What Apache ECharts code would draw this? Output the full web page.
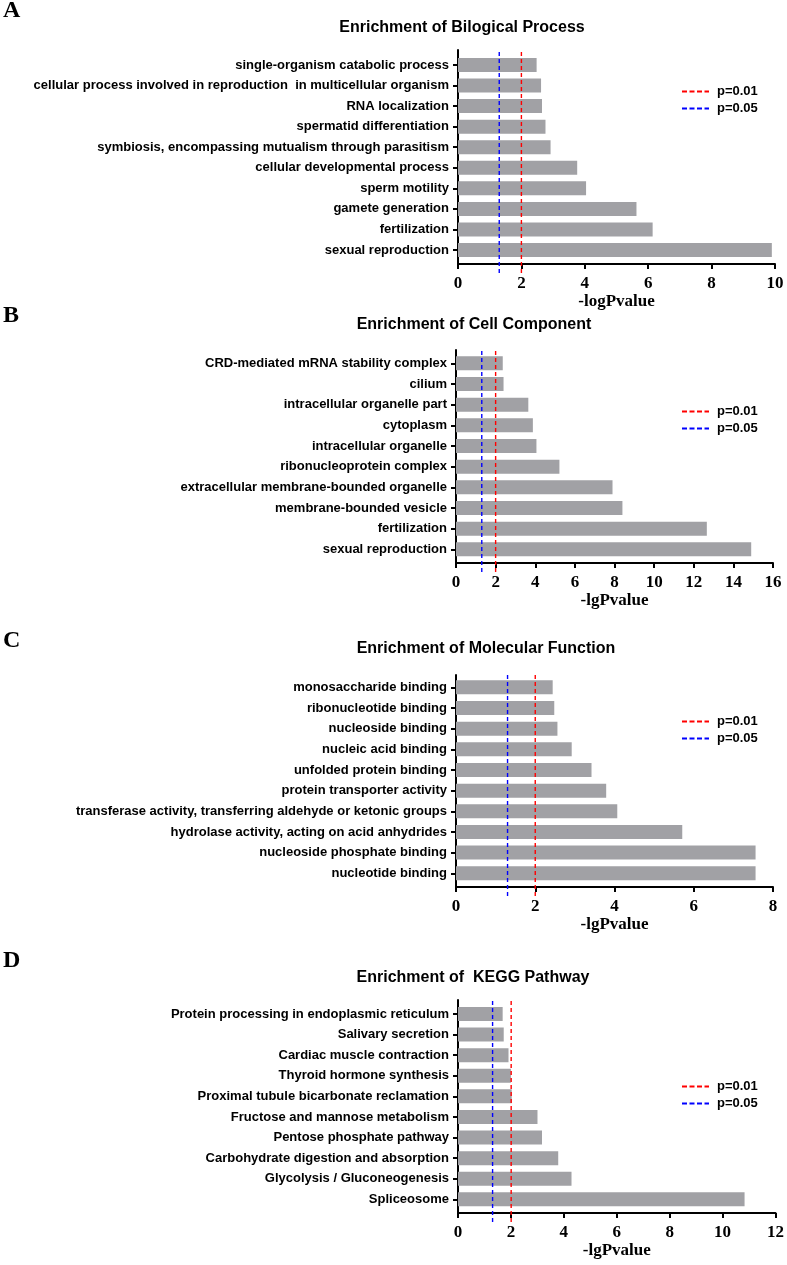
<!DOCTYPE html>
<html>
<head>
<meta charset="utf-8">
<script src="https://cdn.jsdelivr.net/npm/echarts@6/dist/echarts.min.js"></script>
<style>
html,body{margin:0;padding:0;background:#fff;}
#chart{width:787px;height:1265px;}
</style>
</head>
<body>
<div id="chart"></div>
<script>
// ---- data ----
const catsA = ['single-organism catabolic process','cellular process involved in reproduction  in multicellular organism','RNA localization','spermatid differentiation','symbiosis, encompassing mutualism through parasitism','cellular developmental process','sperm motility','gamete generation','fertilization','sexual reproduction'];
const valsA = [2.48, 2.62, 2.65, 2.76, 2.92, 3.76, 4.04, 5.63, 6.14, 9.9];

const catsB = ['CRD-mediated mRNA stability complex','cilium','intracellular organelle part','cytoplasm','intracellular organelle','ribonucleoprotein complex','extracellular membrane-bounded organelle','membrane-bounded vesicle','fertilization','sexual reproduction'];
const valsB = [2.36, 2.4, 3.65, 3.88, 4.06, 5.22, 7.9, 8.4, 12.66, 14.9];

const catsC = ['monosaccharide binding','ribonucleotide binding','nucleoside binding','nucleic acid binding','unfolded protein binding','protein transporter activity','transferase activity, transferring aldehyde or ketonic groups','hydrolase activity, acting on acid anhydrides','nucleoside phosphate binding','nucleotide binding'];
const valsC = [2.44, 2.48, 2.56, 2.92, 3.42, 3.79, 4.07, 5.71, 7.56, 7.56];

const catsD = ['Protein processing in endoplasmic reticulum','Salivary secretion','Cardiac muscle contraction','Thyroid hormone synthesis','Proximal tubule bicarbonate reclamation','Fructose and mannose metabolism','Pentose phosphate pathway','Carbohydrate digestion and absorption','Glycolysis / Gluconeogenesis','Spliceosome'];
const valsD = [1.68, 1.72, 1.9, 1.99, 2.02, 2.99, 3.16, 3.77, 4.27, 10.78];

const titles = ['Enrichment of Bilogical Process','Enrichment of Cell Component','Enrichment of Molecular Function','Enrichment of  KEGG Pathway'];
const letters = ['A','B','C','D'];
const axisNames = ['-logPvalue','-lgPvalue','-lgPvalue','-lgPvalue'];
const axisMax = [10, 16, 8, 12];
const axisStep = [2, 2, 2, 2];
const thresholdNames = ['p=0.01','p=0.05'];
const thresholdVals = [2, 1.301];   // -log10(0.01), -log10(0.05)
const thresholdColors = ['#ff0000','#0000ff'];

// ---- layout (pixels) ----
const layout = [
  {left:458, right:12, axTop:50,   axBot:264,  barTop:54.7,   barBot:260.3,  titleX:462, titleY:28,  letterY:12,  legTop:80},
  {left:456, right:14, axTop:350,  axBot:563,  barTop:353,    barBot:559.7,  titleX:474, titleY:325, letterY:317, legTop:400},
  {left:456, right:14, axTop:675,  axBot:887,  barTop:677,    barBot:883.6,  titleX:486, titleY:649, letterY:642, legTop:710},
  {left:458, right:10, axTop:1000, axBot:1213, barTop:1003.7, barBot:1209.6, titleX:473, titleY:978, letterY:962, legTop:1075}
];
const H = 1265;
const cats = [catsA, catsB, catsC, catsD];
const vals = [valsA, valsB, valsC, valsD];

const SANS = '"Liberation Sans", Arial, sans-serif';
const SERIF = '"Liberation Serif", "Times New Roman", serif';

const grid = [], xAxis = [], yAxis = [], series = [], legend = [], graphic = [];

for (let p = 0; p < 4; p++) {
  const L = layout[p];
  const g0 = grid.length;
  // grid 1: dashed threshold lines (extend below axis)
  grid.push({left:L.left, right:L.right, top:L.axTop, bottom:H - (L.axBot + 9)});
  // grid 2: visible axes
  grid.push({left:L.left, right:L.right, top:L.axTop, bottom:H - L.axBot});
  // grid 3: bars
  grid.push({left:L.left, right:L.right, top:L.barTop, bottom:H - L.barBot});

  xAxis.push({type:'value', gridIndex:g0, min:0, max:axisMax[p], show:false});
  yAxis.push({type:'value', gridIndex:g0, min:0, max:1, show:false});

  xAxis.push({type:'value', gridIndex:g0+1, min:0, max:axisMax[p], interval:axisStep[p],
    name:axisNames[p], nameLocation:'middle', nameGap:29,
    nameTextStyle:{fontFamily:SERIF, fontWeight:'bold', fontSize:17, color:'#000'},
    axisLine:{show:true, lineStyle:{color:'#000', width:2}},
    axisTick:{show:true, length:5, lineStyle:{color:'#000', width:2}},
    axisLabel:{margin:11, fontFamily:SERIF, fontWeight:'bold', fontSize:17, color:'#000'},
    splitLine:{show:false}});
  yAxis.push({type:'value', gridIndex:g0+1, min:0, max:1,
    axisLine:{show:true, lineStyle:{color:'#000', width:2}},
    axisTick:{show:false}, axisLabel:{show:false}, splitLine:{show:false}});

  xAxis.push({type:'value', gridIndex:g0+2, min:0, max:axisMax[p], show:false});
  yAxis.push({type:'category', gridIndex:g0+2, data:cats[p], inverse:true,
    axisLine:{show:false},
    axisTick:{show:true, alignWithLabel:true, length:5, lineStyle:{color:'#000', width:2}},
    axisLabel:{margin:9, fontFamily:SANS, fontWeight:'bold', fontSize:13, color:'#000'},
    splitLine:{show:false}});

  series.push({type:'bar', xAxisIndex:g0+2, yAxisIndex:g0+2, data:vals[p], barWidth:14,
    itemStyle:{color:'#a1a1a5'}, silent:true, z:1});
  for (let t = 0; t < 2; t++) {
    series.push({type:'line', name:thresholdNames[t], xAxisIndex:g0, yAxisIndex:g0,
      data:[[thresholdVals[t], 0], [thresholdVals[t], 1]], symbol:'none', silent:true, z:5,
      lineStyle:{color:thresholdColors[t], width:1.4, type:[4,3]}, itemStyle:{color:thresholdColors[t]}});
  }
  legend.push({data:thresholdNames, orient:'vertical', left:676, top:L.legTop,
    itemWidth:27, itemHeight:14, itemGap:4, selectedMode:false,
    itemStyle:{opacity:0},
    lineStyle:{width:2, type:[5,2.5]},
    textStyle:{fontFamily:SANS, fontWeight:'bold', fontSize:13, color:'#000', padding:[0,0,0,3]}});

  graphic.push({type:'text', left:3, top:L.letterY - 13,
    style:{text:letters[p], font:'bold 24px ' + SERIF, fill:'#000'}});
  graphic.push({type:'text', x:L.titleX, y:L.titleY,
    style:{text:titles[p], font:'bold 16px ' + SANS, fill:'#000', align:'center', verticalAlign:'middle'}});
}

const chart = echarts.init(document.getElementById('chart'), null, {renderer:'canvas'});
chart.setOption({animation:false, backgroundColor:'#fff', grid, xAxis, yAxis, series, legend, graphic});
</script>
</body>
</html>
